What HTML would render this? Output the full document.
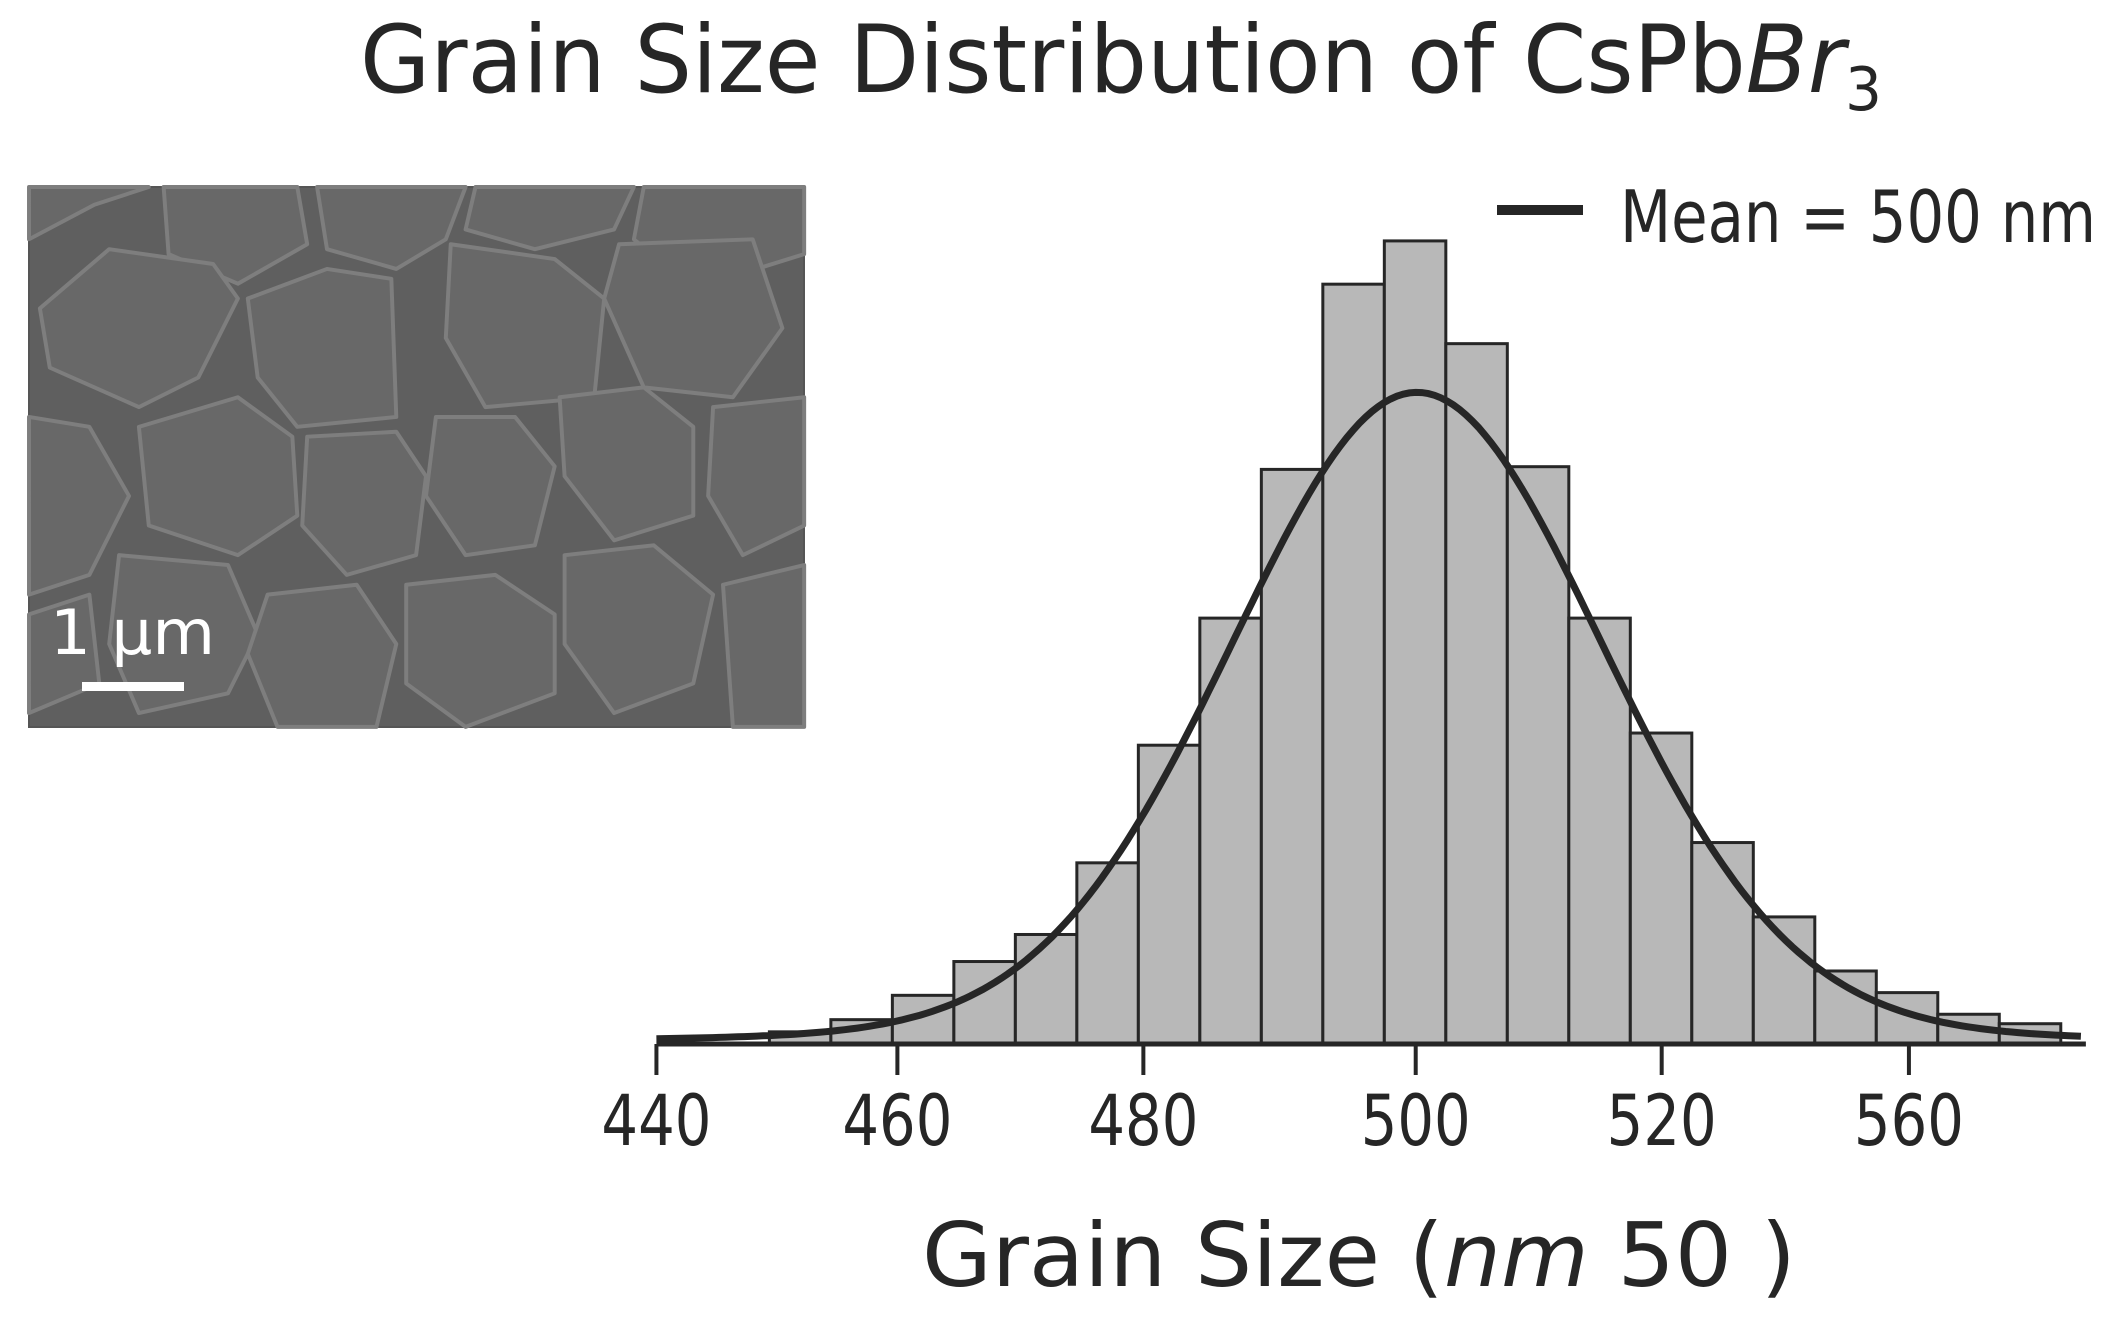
<!DOCTYPE html>
<html><head><meta charset="utf-8"><title>Grain Size Distribution</title>
<style>html,body{margin:0;padding:0;background:#fff}svg{display:block}text{font-family:"DejaVu Sans","Liberation Sans",sans-serif;fill:#262626}</style>
</head><body>
<svg id="chart" width="2121" height="1317" viewBox="0 0 2121 1317" xmlns="http://www.w3.org/2000/svg">
<text x="360" y="92" font-size="94" textLength="1522" lengthAdjust="spacingAndGlyphs">Grain Size Distribution of CsPb<tspan font-style="italic">Br</tspan><tspan font-size="60" dy="18">3</tspan></text>
<g id="sem">
<rect x="29" y="187" width="775" height="540" fill="#5f5f5f" stroke="#555" stroke-width="2"/>
<g id="grains" transform="translate(29,187) scale(0.99,0.987) translate(-29,-187)" fill="#686868" stroke="#7e7e7e" stroke-width="4" stroke-linejoin="round"></g>
<text x="50" y="654" font-size="62" style="fill:#fff" textLength="165" lengthAdjust="spacingAndGlyphs">1 μm</text>
<rect x="82" y="682" width="102" height="9" fill="#fff"/>
</g>
<g id="plot"></g>
<g>
<line x1="1497" y1="210" x2="1583" y2="210" stroke="#262626" stroke-width="10"/>
<text x="1620" y="242" font-size="72" textLength="476" lengthAdjust="spacingAndGlyphs">Mean = 500 nm</text>
</g>
<text x="922" y="1286" font-size="88" textLength="874" lengthAdjust="spacingAndGlyphs">Grain Size (<tspan font-style="italic">nm</tspan> 50 )</text>
</svg>
<script>
const binStart = 447.6;
const binWidth = 4.9;
const counts = [9,18,36,61,81,134,221,315,425,562,594,518,427,315,230,149,94,54,38,22,15];
const tickValues = [438.6,457.8,477.4,499.1,518.7,538.4];
const tickLabels = ["440","460","480","500","520","560"];
const fitMean = 499.2, fitSigma = 15, fitGamma = 17.7, fitEta = 0.1, fitPeak = 482;
const xMin = 438.6, xMax = 552.5;

const NS = "http://www.w3.org/2000/svg";
const X = v => 1427 + (v - 500) * 12.55;
const Y = v => 1044 - v * 1.352;
const plot = document.getElementById('plot');
function mk(tag, attrs, parent){const e=document.createElementNS(NS,tag);for(const k in attrs)e.setAttribute(k,attrs[k]);(parent||plot).appendChild(e);return e;}

counts.forEach((c,i)=>{
  const x0 = X(binStart + i*binWidth), x1 = X(binStart + (i+1)*binWidth);
  const r = mk('rect',{x:x0,y:Y(c),width:x1-x0,height:Y(0)-Y(c),fill:'#b8b8b8',stroke:'#262626','stroke-width':3});
  
  
});
let d='';
for(let v=xMin; v<=xMax; v+=0.5){
  const u=v-fitMean;
  const g=Math.exp(-u*u/(2*fitSigma*fitSigma)), l=1/(1+(u/fitGamma)*(u/fitGamma));
  const h=fitPeak*((1-fitEta)*g+fitEta*l);
  d+=(d?'L':'M')+X(v).toFixed(1)+','+Y(h).toFixed(1);
}
const curve = mk('path',{d:d,fill:'none',stroke:'#262626','stroke-width':7});


const axis = mk('line',{x1:X(xMin),y1:1044,x2:X(xMax),y2:1044,stroke:'#262626','stroke-width':5});


tickValues.forEach((t,i)=>{
  const tk = mk('line',{x1:X(t),y1:1044,x2:X(t),y2:1075,stroke:'#262626','stroke-width':4});
  
  
  const tx = mk('text',{x:X(t),y:1145,'font-size':70,'text-anchor':'middle',textLength:110,lengthAdjust:'spacingAndGlyphs'});
  tx.textContent = tickLabels[i];
  
  
});

const grains = document.getElementById('grains');
const polys = [
 [[29,240],[95,205],[150,187],[29,187]],
 [[165,187],[300,187],[310,245],[240,285],[170,255]],
 [[320,187],[470,187],[450,240],[400,270],[330,250]],
 [[480,187],[640,187],[620,230],[540,250],[470,230]],
 [[650,187],[812,187],[812,255],[700,290],[640,240]],
 [[40,310],[110,250],[215,265],[240,300],[200,380],[140,410],[50,370]],
 [[250,300],[330,270],[395,280],[400,420],[300,430],[260,380]],
 [[455,245],[560,260],[610,300],[600,400],[490,410],[450,340]],
 [[625,245],[760,240],[790,330],[740,400],[650,390],[610,300]],
 [[29,420],[90,430],[130,500],[90,580],[29,600]],
 [[140,430],[240,400],[295,440],[300,520],[240,560],[150,530]],
 [[310,440],[400,435],[430,480],[420,560],[350,580],[305,530]],
 [[440,420],[520,420],[560,470],[540,550],[470,560],[430,500]],
 [[565,400],[650,390],[700,430],[700,520],[620,545],[570,480]],
 [[720,410],[812,400],[812,530],[750,560],[715,500]],
 [[120,560],[230,570],[260,640],[230,700],[140,720],[110,650]],
 [[270,600],[360,590],[400,650],[380,734],[280,734],[250,660]],
 [[410,590],[500,580],[560,620],[560,700],[470,734],[410,690]],
 [[570,560],[660,550],[720,600],[700,690],[620,720],[570,650]],
 [[730,590],[812,570],[812,734],[740,734]],
 [[29,620],[90,600],[100,690],[29,720]]
];
polys.forEach(p=>{
  const e=document.createElementNS(NS,'polygon');
  e.setAttribute('points',p.map(q=>q.join(',')).join(' '));
  
  
  grains.appendChild(e);
});
</script>
</body></html>
